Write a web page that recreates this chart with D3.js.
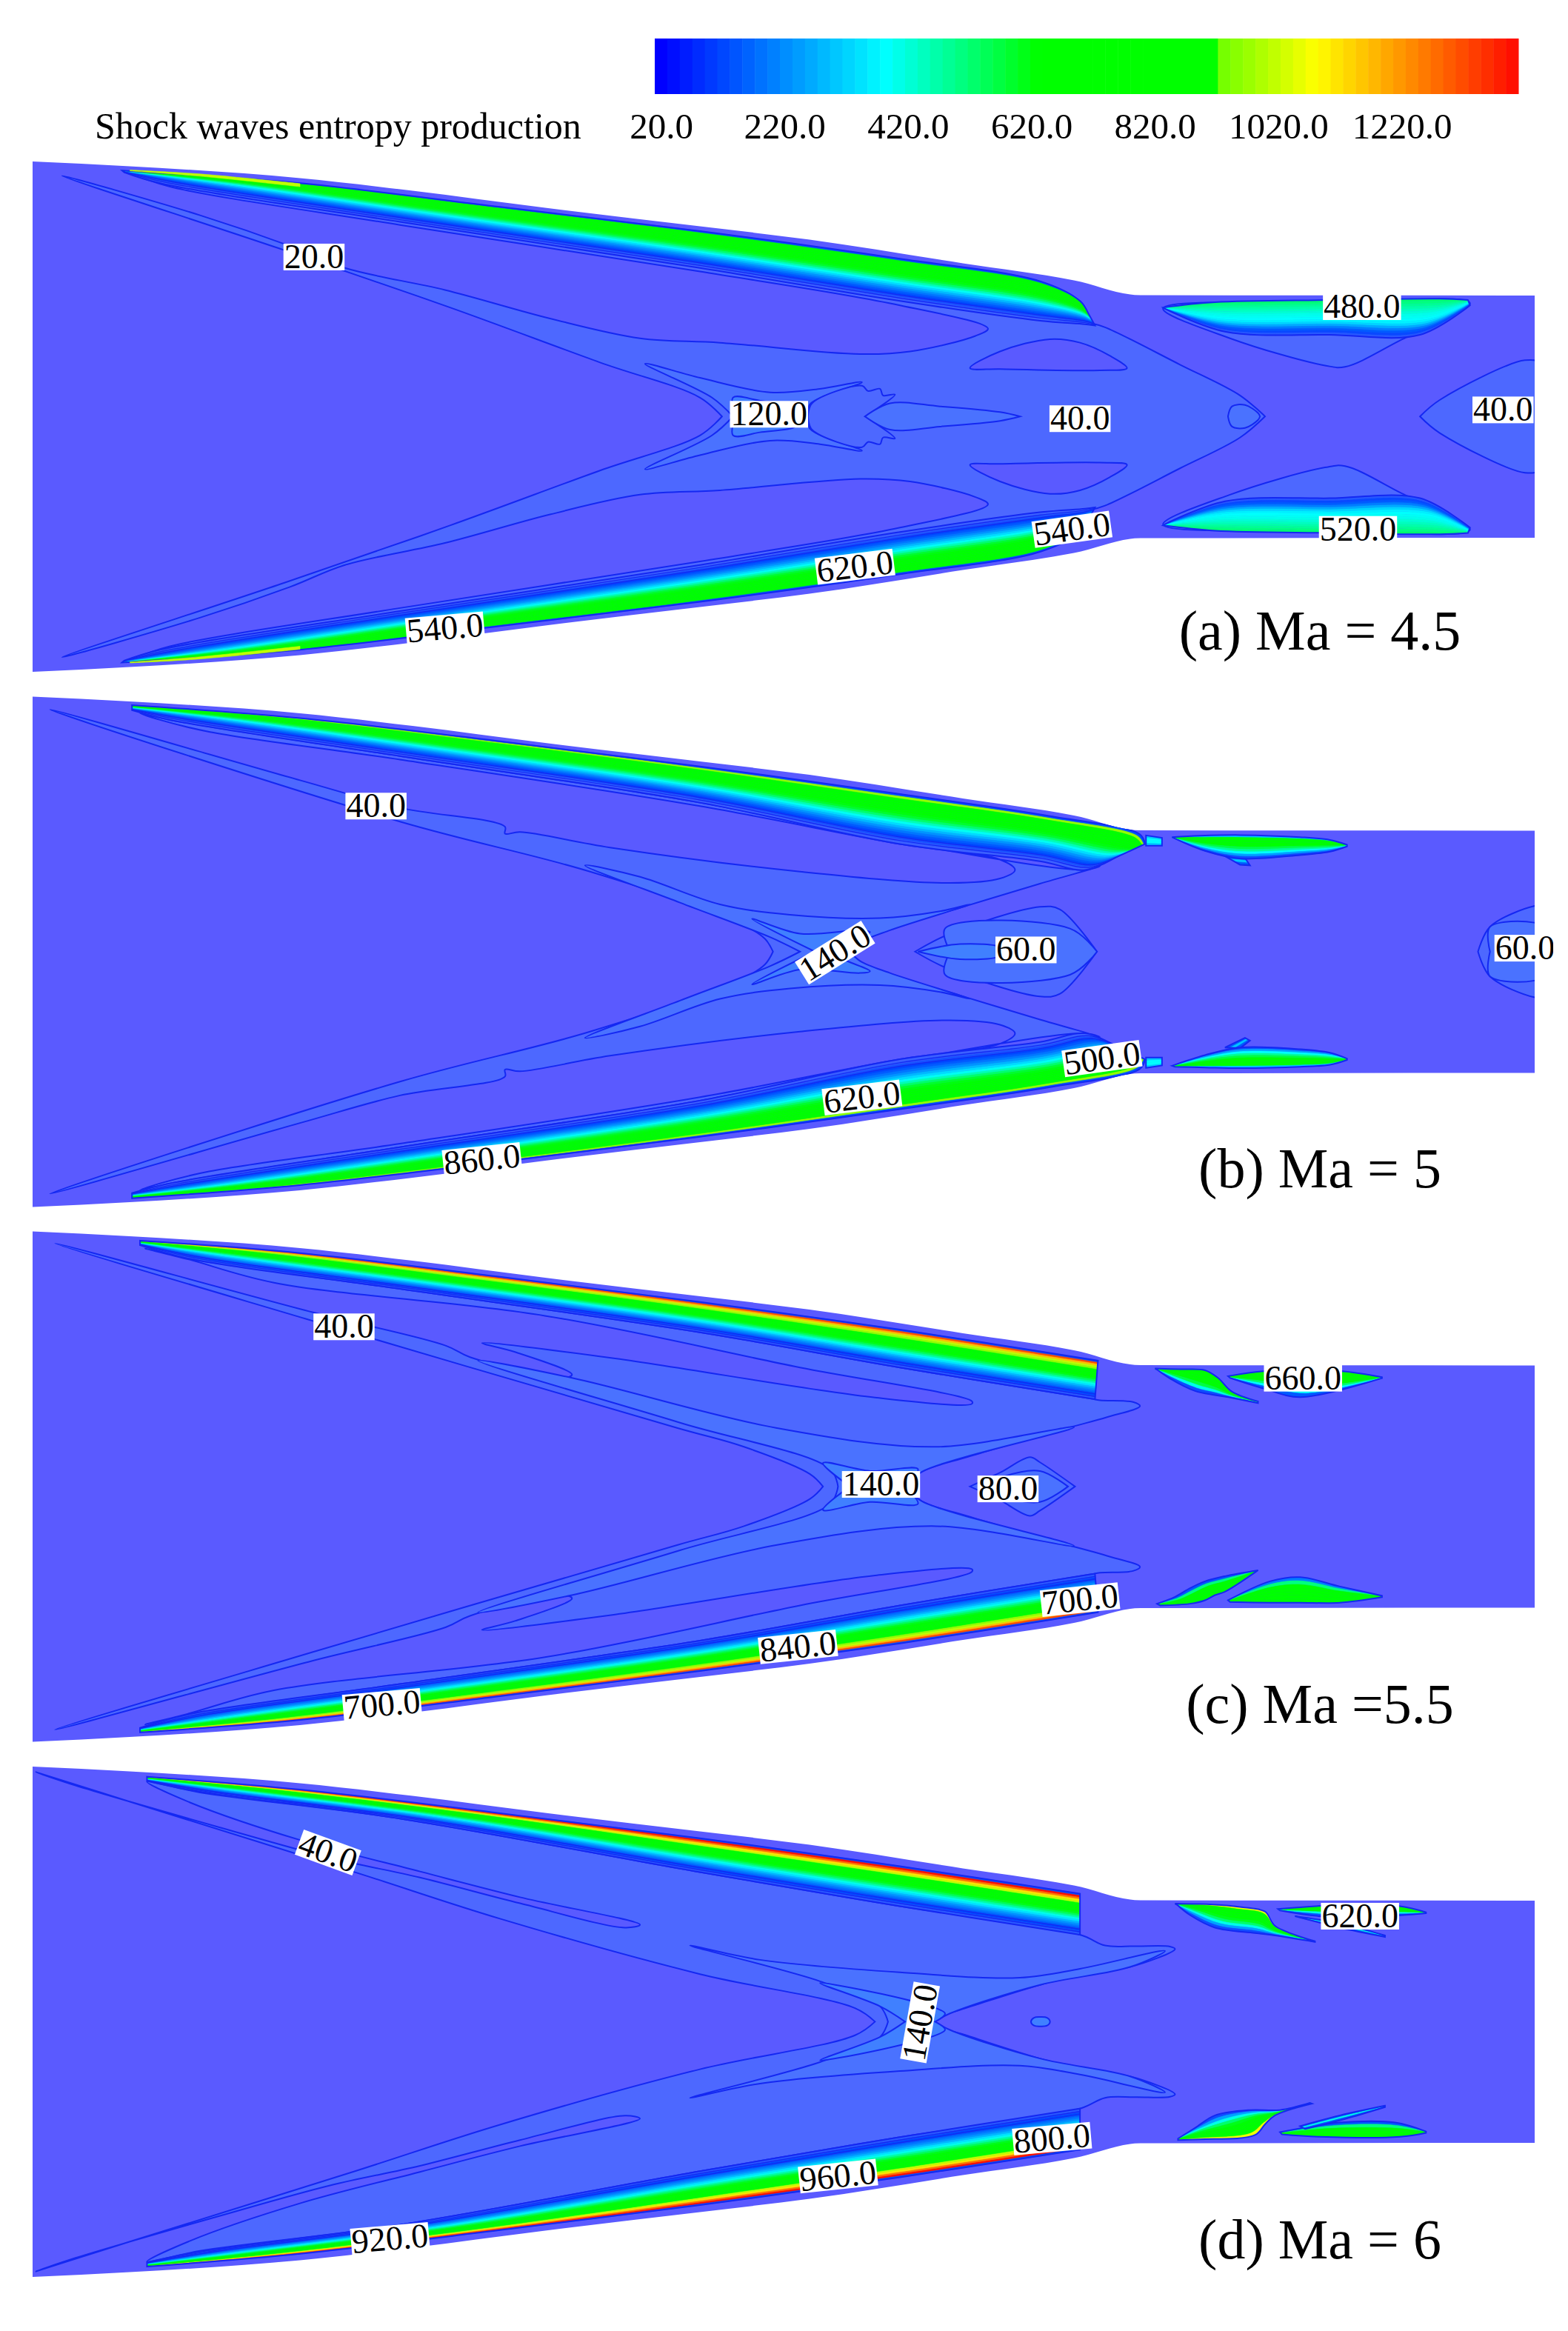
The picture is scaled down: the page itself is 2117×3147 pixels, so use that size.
<!DOCTYPE html>
<html>
<head>
<meta charset="utf-8">
<script src="https://cdn.jsdelivr.net/npm/d3@7"></script>
<style>
  html, body { margin: 0; background: #fff; }
  text { font-family: "Liberation Serif", serif; fill: #000; }
</style>
</head>
<body>
<div id="chart"></div>
<script>
// colour legend
var legendTitle = "Shock waves entropy production";
var legendTicks = [20, 220, 420, 620, 820, 1020, 1220];
var colorbarLevels = d3.range(20, 1400, 20);

// nozzle wall: [x, half height], same for all four cases
var wallHalf = [[44,344.5],[175,338],[405,322],[557,305],[736,282],[945,257],[1093,239],[1300,207],[1450,184],[1540,164],[2072,163.5]];

// contour value of a wall layer from the wall inwards
var layersA = [140,640,660,640,630,620,620,620,610,580,520,450,390,330,280,230,190,150,120,90,60,40];
var layersB = [140,950,860,740,640,620,620,620,610,580,520,450,390,330,280,230,190,150,120,90,60,40];
var layersC = [140,1300,1150,1000,950,800,660,620,620,620,600,540,470,400,340,280,230,190,150,120,90,60];
var layersD = [140,1380,1250,1100,1000,900,760,640,620,620,600,540,470,400,340,280,230,190,150,120,90,60];
var blobLayersThroat = [520,500,480,460,440,420,400,390,380,360,320,260,200,150,110,70];
var blobLayersB = [300,620,640,640,620,560,480,380,250,100];
var blobLayersD = [1050,900,700,620,620,600,520,400,250,100];
var tipLayers = [1000];

// Ma = 4.5 (units: crop of the case, centre line at y = 948)
var aHalves = [
  [40, [[722,948],[700,905],[600,825],[450,700],[285,570],[62,400],[200,490],[290,560],[345,610],[445,660],[550,725],[640,770],[720,780],[860,806],[910,800],[975,765],[988,748],[900,695],[700,618],[400,512],[170,425],[140,402],[160,412],[400,502],[700,607],[900,682],[1090,735],[1105,745],[1180,830],[1240,900],[1265,948]]],
  [60, [[733,948],[712,905],[645,828],[700,860],[770,893],[820,885],[862,870],[810,920],[808,948]]],
  [80, [[735,948],[733,905],[760,912],[795,925],[770,948]]],
  [40, [[808,948],[812,918],[862,878],[868,890],[880,885],[883,900],[895,898],[865,948]]],
  [60, [[865,948],[890,918],[940,925],[1000,938],[1020,948]]],
  [60, [[1228,948],[1232,925],[1245,922],[1258,940],[1260,948]]],
  [40, [[1420,948],[1440,910],[1525,820],[1540,828],[1540,948]]]
];
var aLoops = [
  [20, [[970,838],[1000,800],[1050,772],[1080,780],[1110,810],[1127,838],[1100,843],[1000,840]]],
  [40, [[1163,702],[1230,770],[1325,832],[1345,835],[1400,775],[1470,690],[1330,690]]]
];
var aSpots = [];
var aBand = {
  top: [[122,388],[300,417],[500,471],[700,526],[900,589],[1040,640],[1080,685],[1088,712]],
  bottom: [[124,392],[160,417],[400,505],[700,610],[900,685],[1040,730],[1085,738],[1095,741]],
  layers: layersA
};
var aBlobsBoth = [
  {top: [[1163,700],[1215,688],[1330,683],[1440,680],[1468,683]], bottom: [[1165,703],[1225,755],[1330,762],[1420,762],[1470,695]], layers: blobLayersThroat},
  {top: [[130,387],[200,396],[300,418]], bottom: [[130,389],[200,401],[300,425]], layers: tipLayers}
];
var aBlobsTop = [], aBlobsBottom = [];
var aLabels = [["20.0",314,585,0],["120.0",769,943,0],["40.0",1080,953,0],["40.0",1503,933,0],["480.0",1362,698,0],["520.0",1358,1205,0],["540.0",1072,1205,-8],["620.0",855,1290,-7],["540.0",445,1430,-5]];

// Ma = 5 (centre line at y = 762)
var bHalves = [
  [40, [[773,762],[765,725],[740,680],[590,530],[400,385],[50,60],[300,265],[400,345],[505,400],[505,420],[520,415],[610,460],[800,530],[950,563],[1000,550],[1015,525],[1000,495],[900,450],[700,340],[400,205],[210,125],[160,90],[140,70],[170,90],[400,195],[700,330],[900,445],[1085,525],[1100,515],[1040,565],[960,635],[880,705],[855,745],[850,762]]],
  [60, [[800,762],[770,720],[680,620],[585,512],[640,545],[720,625],[790,655],[880,665],[940,645],[970,625],[890,700],[860,735],[850,762]]],
  [80, [[815,762],[752,667],[800,710],[860,700],[870,705],[840,745],[835,762]]],
  [40, [[915,762],[950,710],[1040,632],[1060,640],[1097,762]]],
  [60, [[950,762],[945,695],[1070,695],[1097,762]]],
  [80, [[918,762],[960,740],[1000,750],[1000,762]]],
  [40, [[1478,762],[1490,690],[1534,630],[1545,630],[1545,762]]],
  [60, [[1490,762],[1490,690],[1545,690],[1545,762]]]
];
var bLoops = [], bSpots = [];
var bBand = {
  top: [[132,47],[300,85],[500,152],[700,225],[900,305],[1050,369],[1140,422],[1145,450]],
  bottom: [[132,62],[170,90],[400,195],[700,330],[900,450],[1040,500],[1085,525],[1115,490]],
  layers: layersB
};
var bBlobsBoth = [
  {top: [[1146,425],[1162,432]], bottom: [[1146,455],[1162,455]], layers: [300,380,380,300]}
];
var bBlobsTop = [
  {top: [[1225,485],[1245,490]], bottom: [[1240,510],[1250,512]], layers: [150,300,150]},
  {top: [[1172,430],[1200,426],[1240,424],[1300,430],[1330,438],[1347,452]], bottom: [[1175,434],[1205,470],[1240,492],[1300,482],[1330,472],[1347,457]], layers: blobLayersB}
];
var bBlobsBottom = [
  {top: [[1225,1040],[1245,1012]], bottom: [[1240,1042],[1250,1020]], layers: [150,300,150]},
  {top: [[1172,1093],[1205,1062],[1240,1040],[1300,1045],[1330,1055],[1347,1072]], bottom: [[1175,1096],[1205,1098],[1240,1100],[1300,1096],[1330,1090],[1347,1076]], layers: blobLayersB.slice().reverse()}
];
var bLabels = [["40.0",376,340,0],["140.0",835,765,-32],["60.0",1026,757,0],["60.0",1525,752,0],["500.0",1102,1072,-8],["620.0",862,1185,-7],["860.0",482,1365,-6]];

// Ma = 5.5 (centre line at y = 745)
var cHalves = [
  [40, [[823,745],[810,709],[744,630],[677,575],[313,265],[55,40],[313,240],[446,337],[470,370],[565,430],[572,420],[515,355],[482,329],[611,372],[875,487],[972,505],[972,498],[800,400],[545,250],[274,154],[188,86],[145,55],[190,85],[400,172],[700,298],[900,400],[1090,490],[1100,495],[1133,500],[1140,512],[1107,544],[1067,576],[968,659],[922,702],[905,745]]],
  [60, [[838,745],[830,694],[680,560],[478,380],[572,430],[776,575],[936,630],[1074,573],[922,702],[905,745]]],
  [80, [[850,745],[823,677],[870,700],[918,695],[905,745]]],
  [40, [[970,745],[1000,705],[1030,660],[1040,675],[1075,745]]],
  [60, [[985,745],[1005,715],[1040,700],[1068,745]]]
];
var cLoops = [], cSpots = [];
var cBand = {
  top: [[140,32],[300,68],[500,137],[700,210],[900,290],[1098,380]],
  bottom: [[140,45],[190,85],[400,172],[700,298],[900,400],[1095,492]],
  layers: layersC
};
var cBlobsBoth = [];
var cBlobsTop = [
  {top: [[1155,403],[1180,405],[1205,408],[1218,430],[1232,470],[1258,498]], bottom: [[1157,406],[1170,432],[1195,468],[1215,480],[1232,488],[1258,503]], layers: [620,640,620,620,560,400,100]},
  {top: [[1228,425],[1265,410],[1340,410],[1382,428]], bottom: [[1230,430],[1265,462],[1300,486],[1382,431]], layers: [620,620,620,620,520,380,150]}
];
var cBlobsBottom = [
  {top: [[1258,988],[1225,1005],[1205,1020],[1190,1040],[1175,1065],[1157,1085]], bottom: [[1256,992],[1225,1050],[1215,1060],[1205,1075],[1190,1085],[1160,1090]], layers: [150,500,620,640,640,700]},
  {top: [[1228,1075],[1270,1020],[1300,1008],[1340,1035],[1382,1062]], bottom: [[1230,1080],[1270,1082],[1300,1082],[1340,1082],[1382,1066]], layers: [200,500,620,620,620,620,700]}
];
var cLabels = [["40.0",344,282,0],["140.0",881,739,0],["80.0",1008,752,0],["660.0",1303,431,0],["700.0",1080,1073,-6],["840.0",798,1210,-6],["700.0",382,1378,-5]];

// Ma = 6 (centre line at y = 703)
var dHalves = [
  [40, [[875,703],[855,665],[700,570],[500,415],[355,285],[130,88],[36,5],[75,42],[220,160],[330,245],[420,300],[520,372],[625,440],[640,432],[520,355],[420,283],[300,195],[190,90],[147,32],[200,62],[400,135],[700,285],[900,380],[1080,460],[1105,490],[1135,492],[1170,493],[1175,500],[1130,550],[1100,560],[1040,600],[960,670],[935,690],[930,703]]],
  [60, [[888,703],[880,660],[820,590],[690,490],[760,530],[900,565],[1020,580],[1080,555],[1165,505],[1130,550],[1040,600],[950,680],[935,703]]],
  [80, [[905,703],[880,660],[820,595],[945,680],[935,703]]]
];
var dLoops = [];
var dSpots = [[80, [[1031,703],[1034,692],[1040,690],[1047,692],[1050,703],[1047,714],[1040,716],[1034,714]]]];
var dBand = {
  top: [[147,18],[300,54],[500,120],[700,190],[900,268],[1080,345]],
  bottom: [[147,30],[200,60],[400,135],[700,285],[900,380],[1080,460]],
  layers: layersD
};
var dBlobsBoth = [];
var dBlobsTop = [
  {top: [[1175,373],[1210,375],[1240,382],[1265,395],[1275,435],[1315,478]], bottom: [[1177,376],[1190,405],[1215,440],[1255,455],[1275,462],[1315,480]], layers: blobLayersD},
  {top: [[1278,388],[1330,378],[1400,380],[1426,397]], bottom: [[1280,392],[1320,408],[1385,408],[1426,400]], layers: [650,620,620,400,150]},
  {top: [[1295,408],[1340,428],[1385,462]], bottom: [[1300,412],[1340,440],[1385,466]], layers: [150,400,150]}
];
var dBlobsBottom = [
  {top: [[1310,930],[1280,950],[1250,950],[1215,965],[1195,1000],[1178,1030]], bottom: [[1312,932],[1275,965],[1265,990],[1255,1020],[1200,1032],[1178,1034]], layers: blobLayersD.slice().reverse()},
  {top: [[1280,1012],[1340,985],[1395,985],[1426,1010]], bottom: [[1282,1018],[1320,1025],[1400,1025],[1426,1014]], layers: [150,500,620,620,800]},
  {top: [[1300,995],[1340,965],[1385,938]], bottom: [[1305,1003],[1345,975],[1385,942]], layers: [150,400,150]}
];
var dLabels = [["40.0",328,230,20],["140.0",920,705,-80],["620.0",1360,408,0],["800.0",1052,1030,-5],["960.0",838,1135,-6],["920.0",390,1310,-5]];

// one row per case: text, centre line in px, crop range in px, centre line in crop units
var captions = ["(a) Ma = 4.5", "(b) Ma = 5", "(c) Ma =5.5", "(d) Ma = 6"];
var captionBaselines = [877, 1603, 2326, 3049];
var centers = [562.5, 1285, 2007, 2729.5];
var cropRanges = [[0,930],[930,1660],[1660,2390],[2390,3147]];
var cropCenters = [948, 762, 745, 703];
var halves = [aHalves, bHalves, cHalves, dHalves];
var loops = [aLoops, bLoops, cLoops, dLoops];
var spots = [aSpots, bSpots, cSpots, dSpots];
var bands = [aBand, bBand, cBand, dBand];
var blobsBoth = [aBlobsBoth, bBlobsBoth, cBlobsBoth, dBlobsBoth];
var blobsTop = [aBlobsTop, bBlobsTop, cBlobsTop, dBlobsTop];
var blobsBottom = [aBlobsBottom, bBlobsBottom, cBlobsBottom, dBlobsBottom];
var labels = [aLabels, bLabels, cLabels, dLabels];

var WIDTH = 2117, HEIGHT = 3147, CROP = 1568;
var LINE = "#1428f2";

var colorbarColor = d3.scaleLinear()
  .domain([20,379,622,914,914.1,1065,1400])
  .range(["#0000ff","#00ffff","#00ff00","#00ff00","#70ff00","#ffff00","#ff0000"]);
var layerColor = d3.scaleLinear()
  .domain([20,120,379,622,914,914.1,1065,1400])
  .range(["#4d68ff","#0045ff","#00ffff","#00ff00","#00ff00","#70ff00","#ffff00","#ff0000"]);
var fieldColor = d3.scaleOrdinal([20,40,60,80], ["#5a5aff","#4d68ff","#4a72ff","#4080ff"]);

var svg = d3.select("#chart").append("svg")
  .attr("width", WIDTH)
  .attr("height", HEIGHT)
  .style("display", "block");

/**
 * Draws the colour bar and its labels.
 */
function drawLegend() {
  var barX = d3.scaleBand().domain(colorbarLevels).range([884, 2050]);
  var tickX = d3.scaleLinear().domain([20, 1220]).range([893, 1893]);
  svg.append("g").selectAll("rect")
    .data(colorbarLevels)
    .enter().append("rect")
    .attr("x", function(d) { return barX(d); })
    .attr("y", 52)
    .attr("width", barX.bandwidth() + 0.5)
    .attr("height", 75)
    .attr("fill", function(d) { return colorbarColor(d); });
  svg.append("text")
    .attr("x", 128).attr("y", 187)
    .attr("font-size", 50)
    .text(legendTitle);
  svg.append("g").selectAll("text")
    .data(legendTicks)
    .enter().append("text")
    .attr("x", function(d) { return tickX(d); })
    .attr("y", 187)
    .attr("font-size", 49)
    .attr("text-anchor", "middle")
    .text(function(d) { return d.toFixed(1); });
}

/**
 * Lower half of a shape is the upper half flipped on the centre line.
 */
function flip(points, c) {
  return points.map(function(p) { return [p[0], 2*c - p[1]]; });
}

/**
 * Draws the layers between two edges, top edge first.
 */
function drawLayers(g, band, x, y, flipAt) {
  var top = flipAt === undefined ? band.top : flip(band.top, flipAt);
  var bottom = flipAt === undefined ? band.bottom : flip(band.bottom, flipAt);
  var n = band.layers.length;
  var edge = function(f) {
    return top.map(function(p, i) {
      return [x(p[0] + (bottom[i][0] - p[0])*f), y(p[1] + (bottom[i][1] - p[1])*f)];
    });
  };
  var line = d3.line().curve(d3.curveCatmullRom.alpha(0.5));
  var strip = function(f0, f1) {
    return line(edge(f0)) + "L" + line(edge(f1).reverse()).slice(1) + "Z";
  };
  band.layers.forEach(function(v, i) {
    g.append("path")
      .attr("d", strip(i/n, (i + 1)/n))
      .attr("fill", layerColor(v))
      .attr("stroke", layerColor(v))
      .attr("stroke-width", 0.6);
  });
  if (n === 1) return;
  g.append("path")
    .attr("d", strip(0, 1))
    .attr("fill", "none")
    .attr("stroke", LINE)
    .attr("stroke-width", 2);
  // only the long wall layers show the extra low contours
  if (n < 20) return;
  [0.86, 0.93].forEach(function(f) {
    g.append("path")
      .attr("d", line(edge(f)))
      .attr("fill", "none")
      .attr("stroke", LINE)
      .attr("stroke-width", 1.2);
  });
}

/**
 * Draws one case: wall, contours, wall layers, labels, caption.
 */
function drawCase(i) {
  var c = centers[i], cc = cropCenters[i];
  var x = d3.scaleLinear().domain([0, CROP]).range([0, WIDTH]);
  var y = d3.scaleLinear().domain([0, CROP]).range(cropRanges[i]);
  var wallY = d3.scaleLinear().domain([-344.5, 344.5]).range([c + 344.5, c - 344.5]);

  var area = d3.area()
    .x(function(d) { return d[0]; })
    .y0(function(d) { return wallY(-d[1]); })
    .y1(function(d) { return wallY(d[1]); })
    .curve(d3.curveMonotoneX);

  svg.append("clipPath").attr("id", "wall" + i)
    .append("path").attr("d", area(wallHalf));
  svg.append("path").attr("d", area(wallHalf)).attr("fill", fieldColor(20));

  var g = svg.append("g").attr("clip-path", "url(#wall" + i + ")");
  var shape = d3.line()
    .x(function(d) { return x(d[0]); })
    .y(function(d) { return y(d[1]); })
    .curve(d3.curveCatmullRomClosed.alpha(0.5));

  var drawShape = function(level, points) {
    g.append("path")
      .attr("d", shape(points))
      .attr("fill", fieldColor(level))
      .attr("stroke", LINE)
      .attr("stroke-width", 2);
  };

  halves[i].forEach(function(s) {
    drawShape(s[0], s[1].concat(flip(s[1], cc).reverse()));
  });
  loops[i].forEach(function(s) {
    drawShape(s[0], s[1]);
    drawShape(s[0], flip(s[1], cc));
  });
  spots[i].forEach(function(s) {
    drawShape(s[0], s[1]);
  });

  drawLayers(g, bands[i], x, y);
  drawLayers(g, bands[i], x, y, cc);
  blobsBoth[i].forEach(function(b) {
    drawLayers(g, b, x, y);
    drawLayers(g, b, x, y, cc);
  });
  blobsTop[i].concat(blobsBottom[i]).forEach(function(b) {
    drawLayers(g, b, x, y);
  });

  // contour labels sit on white boxes, cut at the edge of the picture
  var lab = svg.append("g").attr("clip-path", "url(#pictureEdge)")
    .selectAll("g")
    .data(labels[i])
    .enter().append("g")
    .attr("transform", function(d) {
      return "translate(" + x(d[1]) + "," + y(d[2]) + ") rotate(" + d[3] + ")";
    });
  lab.append("text")
    .attr("y", 15)
    .attr("font-size", 46)
    .attr("text-anchor", "middle")
    .text(function(d) { return d[0]; });
  lab.insert("rect", "text")
    .each(function() {
      var w = this.parentNode.querySelector("text").getComputedTextLength();
      d3.select(this)
        .attr("x", -w/2 - 1)
        .attr("y", -18)
        .attr("width", w + 2)
        .attr("height", 36)
        .attr("fill", "#fff");
    });

  svg.append("text")
    .attr("x", 1782)
    .attr("y", captionBaselines[i])
    .attr("font-size", 76)
    .attr("text-anchor", "middle")
    .text(captions[i]);
}

svg.append("clipPath").attr("id", "pictureEdge")
  .append("rect").attr("width", 2097).attr("height", HEIGHT);

drawLegend();
d3.range(captions.length).forEach(drawCase);
</script>
</body>
</html>
